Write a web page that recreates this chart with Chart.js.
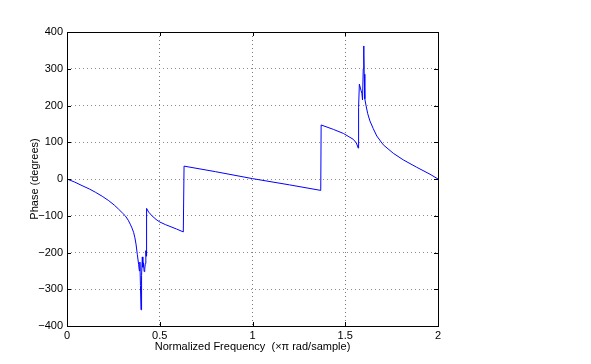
<!DOCTYPE html>
<html>
<head>
<meta charset="utf-8">
<script src="https://cdn.jsdelivr.net/npm/chart.js@4/dist/chart.umd.min.js"></script>
<style>
  body { margin: 0; background: #fff; }
  #wrap { width: 591px; height: 364px; }
</style>
</head>
<body>
<div id="wrap"><canvas id="phaseChart" width="591" height="364"></canvas></div>
<script>
// normalized frequency (x pi rad/sample) and phase in degrees
const freq = [
  0, 0.04, 0.081, 0.12, 0.153, 0.19, 0.225, 0.255, 0.278, 0.3, 0.314, 0.33, 0.341, 0.35,
  0.359, 0.366, 0.372, 0.379, 0.386, 0.39, 0.393, 0.396, 0.399, 0.401, 0.403, 0.406,
  0.409, 0.412, 0.416, 0.419, 0.422, 0.425, 0.427, 0.429, 0.44, 0.458, 0.48, 0.5, 0.53,
  0.555, 0.59, 0.627, 0.631, 0.8, 1.0, 1.2, 1.368, 1.37, 1.436, 1.49, 1.52, 1.543, 1.56,
  1.57, 1.572, 1.576, 1.583, 1.59, 1.593, 1.597, 1.599, 1.601, 1.603, 1.605, 1.606, 1.612,
  1.621, 1.633, 1.651, 1.67, 1.705, 1.759, 1.813, 1.885, 1.957, 2
];
const phase = [
  0, -8, -18, -27, -36, -47, -59, -71, -82, -93, -100, -112, -123, -133,
  -145, -160, -177, -205, -232, -250, -226, -290, -356, -340, -262, -212,
  -240, -228, -252, -246, -230, -195, -210, -80, -90, -100, -110, -117, -124,
  -129, -136, -144, 35, 20, 1, -16, -31, 147, 135, 124, 115, 108, 98,
  84, 195, 258, 245, 232, 215, 300, 362, 340, 270, 285, 218, 200,
  178, 158, 137, 117, 93, 70, 52, 32, 13, 0
];

const xTicks = [0, 0.5, 1, 1.5, 2];
const xTickLabels = ['0', '0.5', '1', '1.5', '2'];
const yTicks = [-400, -300, -200, -100, 0, 100, 200, 300, 400];
const yTickLabels = ['\u2212400', '\u2212300', '\u2212200', '\u2212100', '0', '100', '200', '300', '400'];

const fontFamily = '"Liberation Sans", Arial, Helvetica, sans-serif';

// black box with small inward ticks on all four sides
const boxPlugin = {
  id: 'box',
  afterDraw(chart) {
    const { ctx, chartArea: a, scales } = chart;
    ctx.save();
    ctx.strokeStyle = '#000';
    ctx.lineWidth = 1;
    ctx.beginPath();
    xTicks.slice(1, -1).forEach(v => {
      const px = Math.round(scales.x.getPixelForValue(v)) + 0.5;
      ctx.moveTo(px, a.bottom); ctx.lineTo(px, a.bottom - 4);
      ctx.moveTo(px, a.top); ctx.lineTo(px, a.top + 4);
    });
    yTicks.slice(1, -1).forEach(v => {
      const py = Math.round(scales.y.getPixelForValue(v)) + 0.5;
      ctx.moveTo(a.left, py); ctx.lineTo(a.left + 4, py);
      ctx.moveTo(a.right, py); ctx.lineTo(a.right - 4, py);
    });
    ctx.stroke();
    ctx.strokeRect(Math.round(a.left) + 0.5, Math.round(a.top) + 0.5,
      Math.round(a.right - a.left), Math.round(a.bottom - a.top));
    ctx.restore();
  }
};

const ctx = document.getElementById('phaseChart').getContext('2d');
const chart = new Chart(ctx, {
  type: 'scatter',
  data: {
    datasets: [{
      data: freq.map((f, i) => ({ x: f, y: phase[i] })),
      showLine: true,
      borderColor: '#0000ff',
      borderWidth: 1,
      pointRadius: 0,
      tension: 0
    }]
  },
  options: {
    responsive: false,
    animation: false,
    layout: { padding: { left: 0, right: 153, top: 32, bottom: 0 } },
    plugins: { legend: { display: false }, tooltip: { enabled: false } },
    scales: {
      x: {
        type: 'linear',
        min: 0, max: 2,
        afterBuildTicks: s => { s.ticks = xTicks.map(v => ({ value: v })); },
        afterFit: s => { s.height = 38; },
        ticks: {
          padding: 3,
          color: '#000',
          font: { family: fontFamily, size: 11 },
          maxRotation: 0,
          callback: v => xTickLabels[xTicks.indexOf(v)]
        },
        grid: { color: '#777', drawTicks: false, lineWidth: 1 },
        border: { display: false, dash: [1, 3] },
        title: {
          display: true,
          text: 'Normalized Frequency  (\u00d7\u03c0 rad/sample)',
          color: '#000',
          font: { family: fontFamily, size: 11 },
          padding: { top: 0, bottom: 10 }
        }
      },
      y: {
        min: -400, max: 400,
        afterBuildTicks: s => { s.ticks = yTicks.map(v => ({ value: v })); },
        afterFit: s => { s.width = 67; },
        ticks: {
          padding: 4,
          color: '#000',
          font: { family: fontFamily, size: 11 },
          callback: v => yTickLabels[yTicks.indexOf(v)]
        },
        grid: { color: '#8c8c8c', drawTicks: false, lineWidth: 1 },
        border: { display: false, dash: [1, 3] },
        title: {
          display: true,
          text: 'Phase (degrees)',
          color: '#000',
          font: { family: fontFamily, size: 11 },
          padding: { top: 28, bottom: 0 }
        }
      }
    }
  },
  plugins: [boxPlugin]
});
</script>
</body>
</html>
